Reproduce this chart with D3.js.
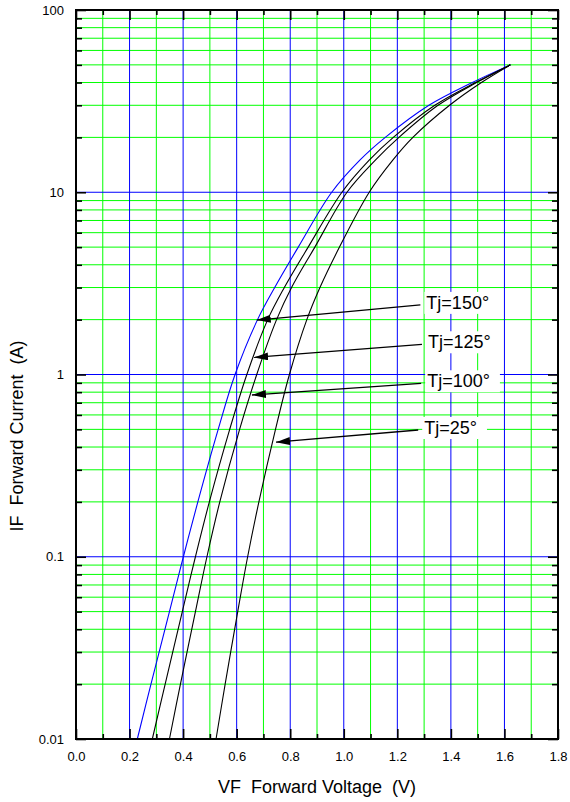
<!DOCTYPE html>
<html>
<head>
<meta charset="utf-8">
<script src="https://cdn.jsdelivr.net/npm/d3@7"></script>
<style>
  html, body { margin: 0; padding: 0; background: #fff; }
  svg { display: block; }
  text { font-family: "Liberation Sans", Arial, Helvetica, sans-serif; fill: #000; white-space: pre; }
</style>
</head>
<body>
<svg id="chart" width="570" height="802"></svg>
<script>
// ---------- data ----------
const currents = [0.01, 0.02, 0.05, 0.1, 0.2, 0.5, 1, 2, 3, 5, 10, 15, 20, 30, 40, 50];
const vf150 = [0.229, 0.280, 0.349, 0.401, 0.455, 0.531, 0.594, 0.678, 0.742, 0.830, 0.955, 1.060, 1.155, 1.318, 1.480, 1.622];
const vf125 = [0.285, 0.333, 0.397, 0.446, 0.498, 0.574, 0.638, 0.716, 0.778, 0.867, 0.993, 1.095, 1.185, 1.340, 1.492, 1.622];
const vf100 = [0.349, 0.390, 0.446, 0.489, 0.537, 0.611, 0.675, 0.749, 0.805, 0.892, 1.012, 1.118, 1.206, 1.352, 1.496, 1.622];
const vf25  = [0.523, 0.557, 0.604, 0.641, 0.683, 0.745, 0.797, 0.862, 0.911, 0.984, 1.095, 1.183, 1.258, 1.395, 1.514, 1.622];

const seriesNames = ["Tj=150°", "Tj=125°", "Tj=100°", "Tj=25°"];
const seriesColors = ["#0000ff", "#000000", "#000000", "#000000"];

const xMajorTicks = [0.0, 0.2, 0.4, 0.6, 0.8, 1.0, 1.2, 1.4, 1.6, 1.8];
const xTickLabels = ["0.0", "0.2", "0.4", "0.6", "0.8", "1.0", "1.2", "1.4", "1.6", "1.8"];
const xMinorTicks = [0.1, 0.3, 0.5, 0.7, 0.9, 1.1, 1.3, 1.5, 1.7];
const yMajorTicks = [0.01, 0.1, 1, 10, 100];
const yTickLabels = ["0.01", "0.1", "1", "10", "100"];
const yMinorMultipliers = [2, 3, 4, 5, 6, 7, 8, 9];
const yDecades = [0.01, 0.1, 1, 10];

// annotation arrows: arrow tip (V, A), arrow tail (V, A)
const annTipV  = [0.675, 0.665, 0.657, 0.747];
const annTipI  = [1.99, 1.24, 0.772, 0.425];
const annTailV = [1.286, 1.292, 1.289, 1.278];
const annTailI = [2.41, 1.465, 0.895, 0.496];

const xTitle = "VF  Forward Voltage  (V)";
const yTitle = "IF  Forward Current  (A)";

// ---------- layout ----------
const L = 76, R = 558, T = 10, B = 739;
const svg = d3.select("#chart");
const x = d3.scaleLinear().domain([0, 1.8]).range([L, R]);
const y = d3.scaleLog().domain([0.01, 100]).range([B, T]);

const yMinor = [];
yDecades.forEach(d => yMinorMultipliers.forEach(m => yMinor.push(+(d * m).toPrecision(3))));

// ---------- grid ----------
const grid = svg.append("g");
grid.selectAll(".vmin").data(xMinorTicks).join("line")
  .attr("x1", d => x(d)).attr("x2", d => x(d)).attr("y1", T).attr("y2", B)
  .attr("stroke", "#00ff00").attr("stroke-width", 1);
grid.selectAll(".hmin").data(yMinor).join("line")
  .attr("x1", L).attr("x2", R).attr("y1", d => y(d)).attr("y2", d => y(d))
  .attr("stroke", "#00ff00").attr("stroke-width", 1);
grid.selectAll(".vmaj").data(xMajorTicks.slice(1, -1)).join("line")
  .attr("x1", d => x(d)).attr("x2", d => x(d)).attr("y1", T).attr("y2", B)
  .attr("stroke", "#0000ff").attr("stroke-width", 1);
grid.selectAll(".hmaj").data(yMajorTicks.slice(1, -1)).join("line")
  .attr("x1", L).attr("x2", R).attr("y1", d => y(d)).attr("y2", d => y(d))
  .attr("stroke", "#0000ff").attr("stroke-width", 1);

// ---------- curves ----------
const allSeries = [vf150, vf125, vf100, vf25];
const line = d3.line()
  .x(d => x(d[0])).y(d => y(d[1]))
  .curve(d3.curveCatmullRom.alpha(0.5));
svg.append("g").selectAll("path").data(allSeries).join("path")
  .attr("d", s => line(s.map((v, i) => [v, currents[i]])))
  .attr("fill", "none")
  .attr("stroke", (s, i) => seriesColors[i])
  .attr("stroke-width", 1.1);

// ---------- annotations ----------
const defs = svg.append("defs");
defs.append("marker").attr("id", "ah")
  .attr("viewBox", "0 0 14 8").attr("markerWidth", 14).attr("markerHeight", 8)
  .attr("refX", 14).attr("refY", 4).attr("orient", "auto").attr("markerUnits", "userSpaceOnUse")
  .append("path").attr("d", "M0,0 L14,4 L0,8 Z").attr("fill", "#000");

const ann = svg.append("g");
seriesNames.forEach((name, i) => {
  const tx = x(annTailV[i]), ty = y(annTailI[i]);
  const lx = tx + 6, ly = ty + 4;
  const t = ann.append("text").attr("x", lx).attr("y", ly)
    .attr("font-size", 18).text(name);
  const w = t.node().getComputedTextLength();
  ann.insert("rect", "text").attr("x", lx - 2).attr("y", ly - 17)
    .attr("width", w + 12).attr("height", 22).attr("fill", "#fff");
  ann.append("line")
    .attr("x1", tx).attr("y1", ty)
    .attr("x2", x(annTipV[i])).attr("y2", y(annTipI[i]))
    .attr("stroke", "#000").attr("stroke-width", 1.3)
    .attr("marker-end", "url(#ah)");
});

// ---------- axes ----------
function styleAxis(g) {
  g.select(".domain").remove();
  g.selectAll(".tick line").attr("stroke", "#000").attr("stroke-width", 1.6);
  g.selectAll(".tick text").attr("font-size", 13).attr("font-family", "Liberation Sans, Arial, sans-serif").attr("fill", "#000");
}
svg.append("g").attr("transform", `translate(0,${B})`)
  .call(d3.axisBottom(x).tickValues(xMajorTicks).tickSize(-10).tickPadding(13)
    .tickFormat((d, i) => xTickLabels[i])).call(styleAxis);
svg.append("g").attr("transform", `translate(0,${B})`)
  .call(d3.axisBottom(x).tickValues(xMinorTicks).tickSize(-5).tickFormat("")).call(styleAxis);
svg.append("g").attr("transform", `translate(0,${T})`)
  .call(d3.axisTop(x).tickValues(xMajorTicks).tickSize(-10).tickFormat("")).call(styleAxis);
svg.append("g").attr("transform", `translate(0,${T})`)
  .call(d3.axisTop(x).tickValues(xMinorTicks).tickSize(-5).tickFormat("")).call(styleAxis);
svg.append("g").attr("transform", `translate(${L},0)`)
  .call(d3.axisLeft(y).tickValues(yMajorTicks).tickSize(-10).tickPadding(12)
    .tickFormat((d, i) => yTickLabels[i])).call(styleAxis);
svg.append("g").attr("transform", `translate(${L},0)`)
  .call(d3.axisLeft(y).tickValues(yMinor).tickSize(-6).tickFormat("")).call(styleAxis);
svg.append("g").attr("transform", `translate(${R},0)`)
  .call(d3.axisRight(y).tickValues(yMajorTicks).tickSize(-10).tickFormat("")).call(styleAxis);
svg.append("g").attr("transform", `translate(${R},0)`)
  .call(d3.axisRight(y).tickValues(yMinor).tickSize(-6).tickFormat("")).call(styleAxis);

// frame
svg.append("rect").attr("x", L).attr("y", T).attr("width", R - L).attr("height", B - T)
  .attr("fill", "none").attr("stroke", "#000").attr("stroke-width", 2);

// titles
svg.append("text").attr("x", (L + R) / 2).attr("y", 793).attr("text-anchor", "middle")
  .attr("font-size", 18).text(xTitle);
svg.append("text").attr("transform", "translate(23,436) rotate(-90)").attr("text-anchor", "middle")
  .attr("font-size", 18).text(yTitle);
</script>
</body>
</html>
